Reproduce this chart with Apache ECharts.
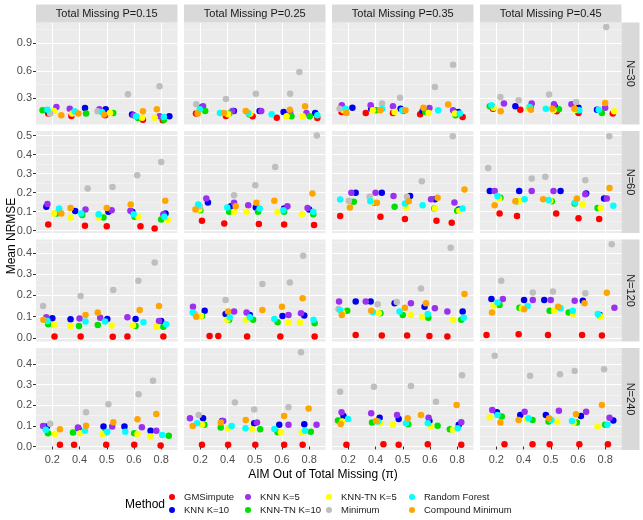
<!DOCTYPE html>
<html><head><meta charset="utf-8">
<script src="https://cdn.jsdelivr.net/npm/echarts@6/dist/echarts.min.js"></script>
<style>html,body{margin:0;padding:0;background:#fff}#c{width:643px;height:520px}</style>
</head><body><div id="c"></div>
<script>
// ---------- labels ----------
const methods = ['GMSimpute','KNN K=10','KNN K=5','KNN-TN K=10','KNN-TN K=5','Minimum','Random Forest','Compound Minimum'];
const colLabels = ['Total Missing P=0.15','Total Missing P=0.25','Total Missing P=0.35','Total Missing P=0.45'];
const rowLabels = ['N=30','N=60','N=120','N=240'];
const xTickLabels = ['0.2','0.4','0.5','0.6','0.8'];
const yTickLabels = [
  ['0.3','0.6','0.9'],
  ['0.0','0.1','0.2','0.3','0.4','0.5'],
  ['0.0','0.1','0.2','0.3','0.4'],
  ['0.0','0.1','0.2','0.3','0.4']
];
const yLimits = [[0.014,1.127],[-0.012,0.524],[-0.017,0.463],[-0.017,0.478]];

// ---------- values: 16 panels (row N, col P), 5 AIM categories each ----------
const gmsY = [
 [0.133,0.107,0.115,0.067,0.060],[0.133,0.107,0.104,0.089,0.085],[0.151,0.140,0.140,0.125,0.096],[0.187,0.176,0.158,0.140,0.133],
 [0.033,0.026,0.024,0.024,0.012],[0.052,0.038,0.035,0.033,0.030],[0.077,0.073,0.061,0.052,0.042],[0.091,0.077,0.091,0.065,0.061],
 [0.006,0.006,0.005,0.006,0.006],[0.009,0.009,0.006,0.006,0.006],[0.014,0.011,0.011,0.009,0.006],[0.014,0.017,0.014,0.014,0.011],
 [0.008,0.008,0.008,0.008,0.005],[0.008,0.008,0.008,0.008,0.008],[0.008,0.011,0.008,0.011,0.008],[0.011,0.011,0.011,0.011,0.011]
];
const gmsJ = [
 [-0.15,-0.30,-0.06,0.33,0.06],[-0.16,-0.06,-0.08,-0.19,0.30],[-0.25,-0.36,-0.36,-0.36,0.20],[-0.12,-0.12,0.22,0.02,0.28],
 [-0.15,0.20,0.00,0.24,-0.24],[0.06,-0.12,0.15,0.08,0.18],[-0.30,0.18,0.08,0.24,-0.20],[0.12,-0.24,0.20,0.02,-0.22],
 [0.08,0.04,0.22,-0.24,0.08],[0.34,-0.34,-0.28,-0.06,0.20],[0.27,0.23,0.16,-0.02,-0.36],[-0.36,-0.18,-0.10,0.15,-0.12],
 [0.28,-0.20,-0.02,0.01,-0.02],[0.06,0.02,0.02,0.08,-0.24],[-0.07,0.29,-0.15,-0.08,0.15],[0.30,0.33,-0.04,0.05,0.10]
];
const knn10Y = [
 [0.170,0.195,0.180,0.122,0.104],[0.205,0.162,0.162,0.151,0.140],[0.198,0.187,0.187,0.162,0.151],[0.205,0.213,0.205,0.198,0.176],
 [0.126,0.103,0.100,0.100,0.091],[0.148,0.129,0.122,0.117,0.112],[0.199,0.200,0.183,0.166,0.112],[0.209,0.209,0.209,0.195,0.169],
 [0.092,0.088,0.089,0.089,0.080],[0.128,0.113,0.108,0.103,0.105],[0.171,0.171,0.163,0.147,0.124],[0.183,0.178,0.178,0.175,0.108],
 [0.097,0.089,0.097,0.097,0.077],[0.137,0.124,0.113,0.105,0.108],[0.148,0.140,0.134,0.124,0.105],[0.166,0.153,0.153,0.148,0.126]
];
const knn10J = [
 [-0.20,0.20,-0.04,-0.07,0.30],[0.06,0.23,0.18,0.06,0.22],[0.15,-0.16,-0.08,-0.27,0.04],[-0.15,-0.30,0.16,0.02,-0.30],
 [-0.22,-0.16,0.06,-0.06,0.16],[0.28,0.12,0.04,0.08,0.00],[0.27,0.23,0.27,0.18,0.06],[-0.24,-0.16,0.36,0.30,-0.04],
 [0.00,-0.33,0.02,0.06,0.00],[0.16,-0.07,-0.18,0.02,-0.18],[0.27,-0.18,-0.30,-0.20,0.20],[-0.18,0.02,-0.24,0.18,-0.20],
 [-0.20,-0.04,-0.12,-0.35,-0.39],[0.10,-0.20,-0.02,-0.10,-0.18],[-0.18,0.15,-0.15,-0.02,0.06],[0.02,-0.12,-0.18,0.11,0.30]
];
const knn5Y = [
 [0.205,0.187,0.180,0.115,0.104],[0.213,0.162,0.162,0.151,0.140],[0.224,0.224,0.213,0.195,0.169],[0.242,0.242,0.235,0.235,0.198],
 [0.140,0.112,0.108,0.105,0.086],[0.169,0.147,0.134,0.129,0.120],[0.199,0.200,0.183,0.166,0.148],[0.209,0.209,0.209,0.192,0.169],
 [0.097,0.091,0.095,0.097,0.080],[0.147,0.124,0.119,0.108,0.116],[0.171,0.171,0.163,0.139,0.124],[0.183,0.178,0.178,0.175,0.142],
 [0.100,0.092,0.097,0.093,0.077],[0.137,0.124,0.116,0.105,0.105],[0.166,0.161,0.153,0.140,0.118],[0.177,0.169,0.174,0.169,0.140]
];
const knn5J = [
 [0.15,-0.36,-0.27,-0.01,-0.06],[0.10,0.18,0.24,0.30,-0.10],[-0.24,-0.18,-0.36,-0.02,-0.15],[0.28,0.30,0.12,-0.24,0.00],
 [-0.18,0.22,0.18,-0.13,0.08],[0.22,0.24,-0.24,0.20,-0.06],[0.11,0.00,-0.34,0.04,-0.10],[-0.06,0.30,0.10,0.27,0.06],
 [-0.22,0.00,-0.24,-0.24,-0.08],[-0.27,0.24,-0.30,0.24,-0.30],[-0.34,-0.36,0.30,0.18,-0.36],[0.24,0.34,0.00,-0.12,0.34],
 [-0.34,-0.06,0.20,0.29,-0.18],[-0.38,-0.16,0.08,0.24,0.27],[-0.25,-0.16,-0.21,-0.05,0.15],[-0.15,0.04,0.30,0.30,0.16]
];
const knnTn10Y = [
 [0.169,0.133,0.140,0.085,0.067],[0.162,0.133,0.125,0.104,0.104],[0.176,0.169,0.162,0.151,0.115],[0.213,0.198,0.180,0.169,0.140],
 [0.091,0.082,0.070,0.073,0.059],[0.108,0.100,0.100,0.100,0.086],[0.152,0.147,0.126,0.117,0.105],[0.173,0.155,0.155,0.143,0.120],
 [0.064,0.056,0.061,0.056,0.053],[0.103,0.085,0.085,0.074,0.069],[0.128,0.116,0.108,0.095,0.085],[0.155,0.142,0.128,0.119,0.103],
 [0.064,0.068,0.068,0.064,0.052],[0.105,0.092,0.084,0.069,0.072],[0.126,0.116,0.108,0.101,0.084],[0.145,0.129,0.121,0.116,0.105]
];
const knnTn10J = [
 [-0.36,0.24,0.24,0.15,0.10],[0.18,0.06,-0.20,0.35,0.02],[-0.12,0.02,0.02,-0.17,-0.06],[-0.24,0.27,0.30,-0.04,-0.12],
 [0.16,0.10,-0.12,0.02,0.00],[0.00,0.06,0.12,0.08,0.15],[0.20,-0.04,-0.30,0.16,0.00],[0.15,-0.24,0.04,-0.12,-0.28],
 [-0.15,-0.02,-0.33,0.06,0.08],[0.06,0.06,-0.06,-0.16,0.20],[-0.04,0.18,0.00,-0.06,0.15],[0.12,-0.15,-0.04,-0.34,-0.18],
 [-0.16,-0.24,-0.06,0.01,0.28],[0.15,-0.25,0.20,-0.16,0.06],[-0.38,-0.13,0.20,0.28,-0.27],[0.20,0.33,-0.08,-0.04,0.00]
];
const knnTn5Y = [
 [0.162,0.133,0.140,0.089,0.089],[0.150,0.125,0.133,0.104,0.104],[0.169,0.169,0.151,0.140,0.133],[0.198,0.187,0.169,0.176,0.158],
 [0.091,0.070,0.070,0.073,0.056],[0.112,0.100,0.100,0.100,0.086],[0.155,0.152,0.122,0.117,0.105],[0.169,0.155,0.157,0.138,0.120],
 [0.061,0.056,0.058,0.058,0.053],[0.103,0.085,0.085,0.072,0.072],[0.119,0.116,0.108,0.097,0.085],[0.152,0.139,0.128,0.113,0.100],
 [0.061,0.064,0.061,0.061,0.048],[0.105,0.089,0.084,0.069,0.068],[0.121,0.113,0.108,0.097,0.081],[0.142,0.132,0.121,0.116,0.097]
];
const knnTn5J = [
 [0.06,-0.27,0.12,0.30,-0.24],[-0.06,0.02,-0.16,0.17,-0.24],[-0.18,-0.10,-0.30,-0.05,-0.08],[-0.10,0.18,0.10,-0.10,0.33],
 [0.06,-0.33,-0.30,0.15,0.24],[-0.04,0.24,-0.30,-0.16,-0.27],[0.00,-0.10,0.12,0.19,0.08],[0.10,-0.15,-0.02,0.18,-0.16],
 [0.08,-0.33,0.18,-0.04,-0.18],[0.02,-0.01,-0.33,0.24,-0.34],[-0.22,0.12,0.30,-0.29,-0.15],[-0.10,-0.06,0.12,-0.18,-0.15],
 [0.10,0.02,-0.15,0.13,-0.39],[0.06,0.02,-0.10,-0.04,-0.27],[-0.22,0.17,-0.36,0.04,-0.15],[-0.24,0.12,0.24,-0.16,-0.28]
];
const minimumY = [
 [0.133,0.151,0.158,0.344,0.431],[0.235,0.293,0.350,0.350,0.587],[0.187,0.242,0.307,0.424,0.667],[0.315,0.278,0.340,0.260,1.078],
 [0.112,0.222,0.230,0.291,0.361],[0.129,0.187,0.239,0.335,0.500],[0.157,0.178,0.178,0.260,0.496],[0.330,0.274,0.283,0.265,0.496],
 [0.150,0.197,0.225,0.269,0.355],[0.113,0.178,0.254,0.261,0.387],[0.136,0.158,0.169,0.233,0.424],[0.269,0.214,0.218,0.210,0.441],
 [0.110,0.166,0.205,0.254,0.319],[0.153,0.214,0.180,0.190,0.457],[0.266,0.290,0.293,0.217,0.346],[0.440,0.343,0.351,0.366,0.375]
];
const minimumJ = [
 [-0.08,-0.15,-0.34,-0.22,-0.06],[-0.15,-0.06,0.04,0.30,-0.36],[-0.32,0.24,-0.10,0.18,-0.15],[0.15,-0.18,-0.06,-0.07,0.04],
 [0.25,0.30,0.21,0.12,0.00],[-0.02,0.24,0.02,-0.25,0.28],[0.02,-0.22,0.15,-0.30,-0.16],[-0.30,0.30,-0.20,0.27,0.15],
 [-0.34,0.04,0.24,0.16,-0.24],[-0.20,-0.07,0.28,0.29,-0.22],[-0.36,0.08,-0.22,-0.33,-0.24],[0.18,0.34,0.08,0.27,0.24],
 [-0.08,0.24,0.06,0.17,-0.30],[-0.06,0.27,-0.02,0.24,-0.30],[-0.30,-0.06,0.30,0.22,0.18],[-0.06,0.24,0.34,-0.12,-0.04]
];
const rfY = [
 [0.176,0.158,0.150,0.104,0.096],[0.180,0.140,0.140,0.125,0.115],[0.187,0.187,0.169,0.169,0.133],[0.224,0.205,0.187,0.169,0.176],
 [0.117,0.091,0.087,0.086,0.073],[0.138,0.122,0.117,0.108,0.100],[0.164,0.155,0.143,0.134,0.117],[0.183,0.166,0.161,0.148,0.131],
 [0.080,0.077,0.077,0.074,0.064],[0.119,0.097,0.097,0.089,0.085],[0.130,0.122,0.124,0.113,0.095],[0.166,0.150,0.139,0.128,0.113],
 [0.081,0.076,0.072,0.072,0.056],[0.113,0.100,0.089,0.085,0.076],[0.134,0.121,0.113,0.113,0.089],[0.153,0.137,0.129,0.124,0.105]
];
const rfJ = [
 [-0.18,-0.18,-0.18,0.08,0.10],[-0.02,-0.28,-0.24,-0.38,0.30],[-0.10,0.24,-0.02,0.30,0.10],[-0.18,0.22,-0.18,0.05,-0.24],
 [0.25,0.06,-0.30,-0.01,0.12],[-0.08,-0.01,0.18,0.05,0.15],[-0.30,-0.19,0.08,-0.27,0.20],[0.04,0.04,-0.08,-0.10,0.30],
 [-0.18,0.22,-0.06,0.35,0.18],[-0.28,0.08,-0.18,-0.28,0.16],[-0.30,-0.10,-0.12,-0.08,0.24],[0.04,0.15,0.36,-0.19,-0.27],
 [-0.24,0.20,0.02,-0.32,0.04],[-0.12,0.15,-0.34,-0.28,-0.15],[-0.01,0.09,0.12,-0.08,0.02],[0.04,0.18,0.02,-0.22,0.08]
];
const compoundY = [
 [0.115,0.133,0.122,0.158,0.180],[0.133,0.140,0.162,0.176,0.213],[0.140,0.169,0.169,0.198,0.231],[0.158,0.176,0.187,0.187,0.249],
 [0.091,0.120,0.120,0.138,0.157],[0.112,0.129,0.147,0.157,0.195],[0.122,0.147,0.155,0.173,0.216],[0.134,0.155,0.166,0.169,0.225],
 [0.085,0.108,0.120,0.131,0.150],[0.100,0.124,0.131,0.147,0.186],[0.108,0.128,0.142,0.163,0.207],[0.119,0.135,0.147,0.163,0.213],
 [0.084,0.101,0.118,0.132,0.158],[0.100,0.116,0.129,0.148,0.185],[0.109,0.124,0.137,0.153,0.201],[0.116,0.129,0.137,0.156,0.201]
];
const compoundJ = [
 [0.33,-0.04,-0.10,0.33,-0.16],[-0.10,-0.13,-0.33,0.29,-0.15],[-0.07,0.17,0.10,-0.24,-0.33],[0.16,0.27,0.06,-0.13,0.00],
 [0.33,-0.33,0.00,-0.12,0.15],[-0.18,0.30,0.06,-0.28,0.12],[0.06,0.05,0.22,0.28,0.27],[-0.06,-0.30,-0.28,-0.04,0.16],
 [-0.33,0.22,-0.33,0.21,-0.08],[-0.15,0.02,0.28,0.00,-0.24],[-0.24,-0.16,0.08,-0.15,0.27],[-0.16,0.02,0.27,0.24,0.06],
 [0.28,0.24,0.24,0.13,-0.18],[-0.28,-0.25,-0.33,0.08,-0.02],[-0.28,0.02,0.18,-0.33,-0.02],[0.15,-0.18,-0.06,-0.07,-0.12]
];

// ---------- styling / layout ----------
const seriesY = [gmsY, knn10Y, knn5Y, knnTn10Y, knnTn5Y, minimumY, rfY, compoundY];
const seriesJ = [gmsJ, knn10J, knn5J, knnTn10J, knnTn5J, minimumJ, rfJ, compoundJ];
const colors = ['#FF0000','#0000EE','#9B30F0','#00E000','#FFFF00','#BEBEBE','#00FFFF','#FFA500'];
const FONT = '"Liberation Sans", Arial, sans-serif';
const PL = 36, PSTEPX = 148, PW = 141.5, PT = 22.5, PSTEPY = 108.5, PH = 102;

const grid = [], xAxis = [], yAxis = [], series = [], graphic = [];
const catPos = [1,2,3,4,5];

for (let r = 0; r < 4; r++) {
  const major = yTickLabels[r].map(Number);
  const step = major[1] - major[0];
  const lim = yLimits[r];
  const minor = [];
  for (let i = -1; i < major.length; i++) {
    const v = +(major[0] + (i + 0.5) * step).toFixed(4);
    if (v > lim[0] && v < lim[1]) minor.push(v);
  }
  for (let c = 0; c < 4; c++) {
    const g = r * 4 + c;
    grid.push({left: PL + c * PSTEPX, top: PT + r * PSTEPY, width: PW, height: PH,
      show: true, backgroundColor: '#EBEBEB', borderWidth: 0});
    xAxis.push({gridIndex: g, type: 'value', min: 0.4, max: 5.6,
      axisLine: {show: false},
      axisTick: {show: r === 3, customValues: catPos, length: 3, lineStyle: {color: '#333333', width: 1}},
      axisLabel: {show: r === 3, customValues: catPos, margin: 4, color: '#4D4D4D', fontSize: 11, fontFamily: FONT,
        formatter: v => xTickLabels[Math.round(v) - 1]},
      splitLine: {show: true, lineStyle: {color: '#FFFFFF', width: 1.1}}});
    yAxis.push({gridIndex: g, type: 'value', min: lim[0], max: lim[1],
      axisLine: {show: false},
      axisTick: {show: c === 0, customValues: major, length: 3, lineStyle: {color: '#333333', width: 1}},
      axisLabel: {show: c === 0, customValues: major, margin: 4, color: '#4D4D4D', fontSize: 11, fontFamily: FONT,
        formatter: v => v.toFixed(1)},
      splitLine: {show: true, lineStyle: {color: '#FFFFFF', width: 1.1}}});
    yAxis.push({gridIndex: g, type: 'value', min: lim[0], max: lim[1], position: 'left',
      axisLine: {show: false},
      axisTick: {show: false, customValues: minor},
      axisLabel: {show: false, customValues: minor},
      splitLine: {show: true, lineStyle: {color: '#F6F6F6', width: 0.6}}});
    for (let m = 0; m < methods.length; m++) {
      const ys = seriesY[m][g], js = seriesJ[m][g];
      series.push({type: 'scatter', name: methods[m], xAxisIndex: g, yAxisIndex: 2 * g,
        data: ys.map((y, k) => [catPos[k] + js[k], y]),
        symbol: 'circle', symbolSize: 6.5, itemStyle: {color: colors[m], opacity: 1},
        silent: true, animation: false, z: 3});
    }
  }
}

// strips
for (let c = 0; c < 4; c++) {
  const x = PL + c * PSTEPX;
  graphic.push({type: 'rect', shape: {x: x, y: 4.5, width: PW, height: 18}, style: {fill: '#D9D9D9'}, silent: true});
  graphic.push({type: 'text', x: x + PW / 2, y: 13.5, style: {text: colLabels[c], fill: '#1A1A1A', font: '11px ' + FONT,
    textAlign: 'center', textVerticalAlign: 'middle'}, silent: true});
}
const SX = PL + 3 * PSTEPX + PW;
for (let r = 0; r < 4; r++) {
  const y = PT + r * PSTEPY;
  graphic.push({type: 'rect', shape: {x: SX, y: y, width: 18, height: PH}, style: {fill: '#D9D9D9'}, silent: true});
  graphic.push({type: 'text', x: SX + 9, y: y + PH / 2, rotation: -Math.PI / 2,
    style: {text: rowLabels[r], fill: '#1A1A1A', font: '11px ' + FONT, textAlign: 'center', textVerticalAlign: 'middle'}, silent: true});
}
// axis titles
graphic.push({type: 'text', x: 323, y: 475, style: {text: 'AIM Out of Total Missing (π)', fill: '#000000', font: '12px ' + FONT,
  textAlign: 'center', textVerticalAlign: 'middle'}, silent: true});
graphic.push({type: 'text', x: 12, y: 236, rotation: Math.PI / 2, style: {text: 'Mean NRMSE', fill: '#000000', font: '12px ' + FONT,
  textAlign: 'center', textVerticalAlign: 'middle'}, silent: true});
graphic.push({type: 'text', x: 125, y: 505, style: {text: 'Method', fill: '#000000', font: '12px ' + FONT,
  textAlign: 'left', textVerticalAlign: 'middle'}, silent: true});

// legends (two rows, four columns, filled by column)
const legColX = [176, 252, 333, 416];
const legRowY = [498, 511];
const legend = methods.map((name, i) => ({
  data: [name], left: legColX[Math.floor(i / 2)] - 7, top: legRowY[i % 2] - 6,
  orient: 'horizontal', padding: 0, itemGap: 0, itemWidth: 14, itemHeight: 6, icon: 'circle',
  selectedMode: false, textStyle: {fontSize: 9.5, color: '#1A1A1A', fontFamily: FONT}
}));

const chart = echarts.init(document.getElementById('c'), null, {renderer: 'canvas'});
chart.setOption({
  backgroundColor: '#FFFFFF', animation: false,
  textStyle: {fontFamily: FONT},
  grid, xAxis, yAxis, series, legend, graphic
});
</script></body></html>
